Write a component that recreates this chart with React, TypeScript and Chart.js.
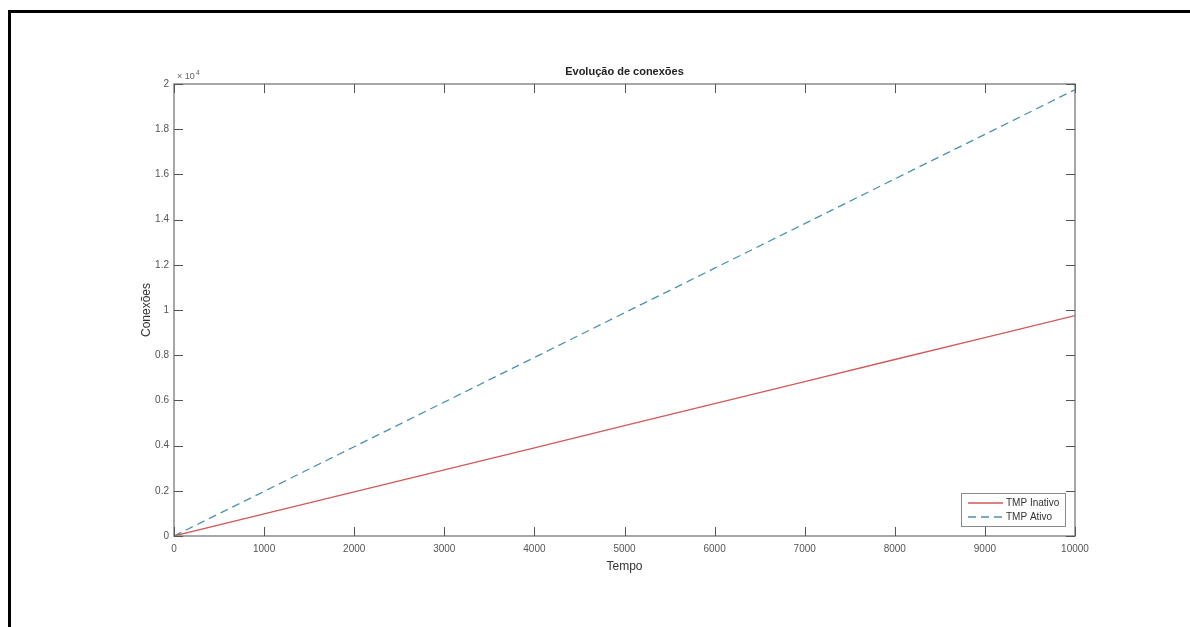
import React, { useEffect, useRef } from "react";
import { Chart, registerables } from "chart.js";

Chart.register(...registerables);

const tempo = [0, 1000, 2000, 3000, 4000, 5000, 6000, 7000, 8000, 9000, 10000];
const tmpInativo = [0, 975, 1950, 2925, 3895, 4880, 5860, 6830, 7810, 8780, 9750];
const tmpAtivo = [0, 1975, 3950, 5925, 7900, 9875, 11850, 13820, 15800, 17770, 19750];
const xTicks = [0, 1000, 2000, 3000, 4000, 5000, 6000, 7000, 8000, 9000, 10000];
const yTicks = [0, 2000, 4000, 6000, 8000, 10000, 12000, 14000, 16000, 18000, 20000];
const seriesLabels = ["TMP Inativo", "TMP Ativo"];
const chartTitle = "Evolução de conexões";
const xTitle = "Tempo";
const yTitle = "Conexões";

const FONT = "'Liberation Sans', Arial, sans-serif";
const RED = "#d05a58";
const BLUE = "#4b93ad";

const matlabPlugin = {
  id: "matlabDecor",
  afterDatasetsDraw(chart: any) {
    const { ctx, chartArea, scales } = chart;
    const { left, right, top, bottom } = chartArea;
    ctx.save();
    // box
    ctx.strokeStyle = "#8a8a8a";
    ctx.lineWidth = 1.5;
    ctx.strokeRect(left, top, right - left, bottom - top);
    // inward ticks
    ctx.strokeStyle = "#555";
    ctx.lineWidth = 1;
    const tl = 9;
    xTicks.forEach((v) => {
      const x = Math.round(scales.x.getPixelForValue(v)) + 0.5;
      ctx.beginPath();
      ctx.moveTo(x, bottom);
      ctx.lineTo(x, bottom - tl);
      ctx.moveTo(x, top);
      ctx.lineTo(x, top + tl);
      ctx.stroke();
    });
    yTicks.forEach((v) => {
      const y = Math.round(scales.y.getPixelForValue(v)) + 0.5;
      ctx.beginPath();
      ctx.moveTo(left, y);
      ctx.lineTo(left + tl, y);
      ctx.moveTo(right, y);
      ctx.lineTo(right - tl, y);
      ctx.stroke();
    });
    // exponent
    ctx.fillStyle = "#666";
    ctx.textBaseline = "alphabetic";
    ctx.textAlign = "left";
    ctx.font = `9px ${FONT}`;
    ctx.fillText("× 10", left + 3, top - 5);
    ctx.font = `7px ${FONT}`;
    ctx.fillText("4", left + 22, top - 9);
    // title
    ctx.fillStyle = "#222";
    ctx.font = `bold 11px ${FONT}`;
    ctx.textAlign = "center";
    ctx.textBaseline = "middle";
    ctx.fillText(chartTitle, (left + right) / 2, top - 12);
    // legend
    const lx = 961, ly = 493, lw = 104, lh = 33;
    ctx.fillStyle = "#fff";
    ctx.fillRect(lx, ly, lw, lh);
    ctx.strokeStyle = "#8a8a8a";
    ctx.lineWidth = 1;
    ctx.strokeRect(lx + 0.5, ly + 0.5, lw, lh);
    const colors = [RED, BLUE];
    const dashes = [[], [8, 5]];
    seriesLabels.forEach((lab, i) => {
      const yy = ly + 10 + i * 14;
      ctx.strokeStyle = colors[i];
      ctx.lineWidth = 1.3;
      ctx.setLineDash(dashes[i]);
      ctx.beginPath();
      ctx.moveTo(lx + 7, yy);
      ctx.lineTo(lx + 42, yy);
      ctx.stroke();
      ctx.setLineDash([]);
      ctx.fillStyle = "#333";
      ctx.font = `10px ${FONT}`;
      ctx.textAlign = "left";
      ctx.fillText(lab, lx + 45, yy);
    });
    ctx.restore();
  },
};

export default function App() {
  const ref = useRef<HTMLCanvasElement | null>(null);
  useEffect(() => {
    if (!ref.current) return;
    const chart = new Chart(ref.current, {
      type: "line",
      data: {
        datasets: [
          {
            label: seriesLabels[0],
            data: tempo.map((t, i) => ({ x: t, y: tmpInativo[i] })),
            borderColor: RED,
            borderWidth: 1.3,
            pointRadius: 0,
            fill: false,
            tension: 0,
          },
          {
            label: seriesLabels[1],
            data: tempo.map((t, i) => ({ x: t, y: tmpAtivo[i] })),
            borderColor: BLUE,
            borderWidth: 1.3,
            borderDash: [8, 5],
            pointRadius: 0,
            fill: false,
            tension: 0,
          },
        ],
      },
      options: {
        animation: false,
        responsive: false,
        layout: { padding: { left: 0, right: 115, top: 84, bottom: 0 } },
        plugins: {
          legend: { display: false },
          title: { display: false },
          tooltip: { enabled: false },
        },
        scales: {
          x: {
            type: "linear",
            min: 0,
            max: 10000,
            grid: { display: false, drawTicks: false },
            border: { display: false },
            afterBuildTicks: (s: any) => {
              s.ticks = xTicks.map((v) => ({ value: v }));
            },
            afterFit: (s: any) => {
              s.height = 91;
            },
            ticks: {
              padding: 7,
              maxRotation: 0,
              autoSkip: false,
              color: "#555",
              font: { family: FONT, size: 10 },
              callback: (v: any) => String(v),
            },
            title: {
              display: true,
              text: xTitle,
              color: "#333",
              font: { family: FONT, size: 12 },
              padding: { top: 0, bottom: 53 },
            },
          },
          y: {
            type: "linear",
            min: 0,
            max: 20000,
            grid: { display: false, drawTicks: false },
            border: { display: false },
            afterBuildTicks: (s: any) => {
              s.ticks = yTicks.map((v) => ({ value: v }));
            },
            afterFit: (s: any) => {
              s.width = 174;
            },
            ticks: {
              padding: 5,
              autoSkip: false,
              color: "#555",
              font: { family: FONT, size: 10 },
              callback: (v: any) => String(+(Number(v) / 10000).toFixed(1)),
            },
            title: {
              display: true,
              text: yTitle,
              color: "#333",
              font: { family: FONT, size: 12 },
              padding: { top: 139, bottom: 0 },
            },
          },
        },
      },
      plugins: [matlabPlugin],
    } as any);
    return () => chart.destroy();
  }, []);

  return (
    <div style={{ position: "fixed", left: 0, top: 0, width: 1190, height: 627, background: "#fff" }}>
      <canvas ref={ref} width={1190} height={627} style={{ position: "absolute", left: 0, top: 0, width: 1190, height: 627 }} />
      <div
        style={{
          position: "absolute",
          left: 8,
          top: 10,
          width: 1182,
          height: 617,
          borderTop: "3px solid #000",
          borderLeft: "3px solid #000",
          boxSizing: "border-box",
          pointerEvents: "none",
        }}
      />
    </div>
  );
}
